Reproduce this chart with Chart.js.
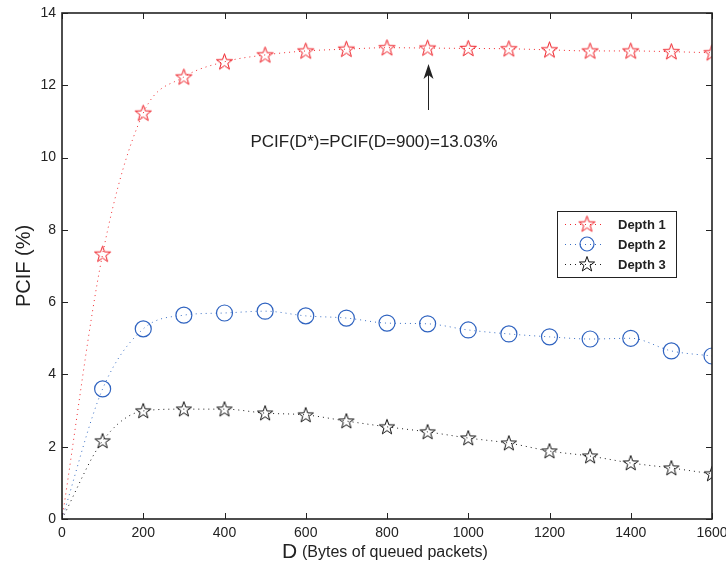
<!DOCTYPE html>
<html>
<head>
<meta charset="utf-8">
<script src="https://cdn.jsdelivr.net/npm/chart.js@4.4.1/dist/chart.umd.min.js"></script>
<style>
  html, body { margin: 0; padding: 0; background: #fff; }
  #wrap { width: 726px; height: 566px; }
</style>
</head>
<body>
<div id="wrap"><canvas id="c" width="726" height="566"></canvas></div>
<script>
// values
const dValues = [0, 100, 200, 300, 400, 500, 600, 700, 800, 900, 1000, 1100, 1200, 1300, 1400, 1500, 1600];
const depth1 = [0, 7.33, 11.23, 12.23, 12.65, 12.84, 12.95, 13.0, 13.04, 13.03, 13.02, 13.01, 12.98, 12.95, 12.95, 12.93, 12.9];
const depth2 = [0, 3.6, 5.26, 5.64, 5.7, 5.75, 5.62, 5.56, 5.42, 5.4, 5.23, 5.12, 5.04, 4.98, 5.0, 4.65, 4.51];
const depth3 = [0, 2.16, 2.99, 3.04, 3.04, 2.93, 2.88, 2.71, 2.55, 2.41, 2.24, 2.1, 1.88, 1.74, 1.55, 1.41, 1.25];
const seriesNames = ['Depth 1', 'Depth 2', 'Depth 3'];
const annotationText = 'PCIF(D*)=PCIF(D=900)=13.03%';
const annotationX = 900;

const FONT = "'Liberation Sans', Arial, sans-serif";

// pentagram marker, like MATLAB's 'p'
function starMarker(color, R) {
  const size = Math.ceil(R * 2 + 4);
  const cv = document.createElement('canvas');
  cv.width = size; cv.height = size;
  const g = cv.getContext('2d');
  const cx = size / 2, cy = size / 2 + 0.5, r = R * 0.40;
  g.beginPath();
  for (let i = 0; i < 10; i++) {
    const a = -Math.PI / 2 + i * Math.PI / 5;
    const rr = i % 2 === 0 ? R : r;
    const px = cx + rr * Math.cos(a), py = cy + rr * Math.sin(a);
    i === 0 ? g.moveTo(px, py) : g.lineTo(px, py);
  }
  g.closePath();
  g.strokeStyle = color;
  g.lineWidth = 1;
  g.stroke();
  return cv;
}

const redStar = starMarker('#ee1c24', 8.5);
const blackStar = starMarker('#111', 8);

const toXY = ys => dValues.map((x, i) => ({ x: x, y: ys[i] }));
// no marker on the origin point
const markerRadius = r => ctx => (ctx.dataIndex === 0 ? 0 : r);

const frameAndExtras = {
  id: 'frameAndExtras',
  afterDraw(chart) {
    const { ctx, chartArea: a, scales: { x, y } } = chart;
    ctx.save();
    // inward ticks on all four sides
    ctx.strokeStyle = '#222';
    ctx.lineWidth = 1;
    ctx.beginPath();
    x.ticks.forEach(t => {
      const px = Math.round(x.getPixelForValue(t.value)) + 0.5;
      ctx.moveTo(px, a.bottom); ctx.lineTo(px, a.bottom - 6);
      ctx.moveTo(px, a.top); ctx.lineTo(px, a.top + 6);
    });
    y.ticks.forEach(t => {
      const py = Math.round(y.getPixelForValue(t.value)) + 0.5;
      ctx.moveTo(a.left, py); ctx.lineTo(a.left + 6, py);
      ctx.moveTo(a.right, py); ctx.lineTo(a.right - 6, py);
    });
    ctx.stroke();
    // box
    ctx.lineWidth = 1.6;
    ctx.strokeStyle = '#222';
    ctx.strokeRect(a.left, a.top, a.right - a.left, a.bottom - a.top);

    // arrow + note
    const ax = Math.round(x.getPixelForValue(annotationX)) + 0.5;
    ctx.lineWidth = 1;
    ctx.beginPath();
    ctx.moveTo(ax, 110); ctx.lineTo(ax, 72);
    ctx.stroke();
    ctx.fillStyle = '#222';
    ctx.beginPath();
    ctx.moveTo(ax, 64); ctx.lineTo(ax - 5, 79); ctx.lineTo(ax, 75); ctx.lineTo(ax + 5, 79);
    ctx.closePath();
    ctx.fill();
    ctx.font = '17px ' + FONT;
    ctx.textAlign = 'center';
    ctx.textBaseline = 'middle';
    ctx.fillText(annotationText, 374, 142);

    // axis titles
    ctx.save();
    ctx.translate(24, 266);
    ctx.rotate(-Math.PI / 2);
    ctx.font = '20px ' + FONT;
    ctx.fillText('PCIF (%)', 0, 0);
    ctx.restore();
    ctx.textAlign = 'left';
    ctx.textBaseline = 'alphabetic';
    ctx.font = '21px ' + FONT;
    ctx.fillText('D', 282, 558);
    ctx.font = '16px ' + FONT;
    ctx.fillText('(Bytes of queued packets)', 302, 557);

    // legend
    const lx = 557, ly = 211, lw = 119, lh = 66;
    ctx.fillStyle = '#fff';
    ctx.fillRect(lx, ly, lw, lh);
    ctx.lineWidth = 1;
    ctx.strokeStyle = '#222';
    ctx.strokeRect(lx + 0.5, ly + 0.5, lw, lh);
    chart.data.datasets.forEach((ds, i) => {
      const cy = ly + 13 + i * 20;
      ctx.save();
      ctx.strokeStyle = ds.borderColor;
      ctx.setLineDash([1, 4]);
      ctx.beginPath();
      ctx.moveTo(lx + 8, cy + 0.5); ctx.lineTo(lx + 48, cy + 0.5);
      ctx.stroke();
      ctx.restore();
      if (ds.pointStyle === 'circle') {
        ctx.strokeStyle = ds.pointBorderColor;
        ctx.lineWidth = 1.2;
        ctx.beginPath();
        ctx.arc(lx + 30, cy, 7, 0, Math.PI * 2);
        ctx.stroke();
      } else {
        const img = ds.pointStyle;
        ctx.drawImage(img, lx + 30 - img.width / 2, cy - img.height / 2);
      }
      ctx.fillStyle = '#222';
      ctx.font = 'bold 13px ' + FONT;
      ctx.textBaseline = 'middle';
      ctx.fillText(ds.label, lx + 61, cy + 1);
    });
    ctx.restore();
  }
};

new Chart(document.getElementById('c'), {
  type: 'line',
  data: {
    datasets: [
      {
        label: seriesNames[0],
        data: toXY(depth1),
        borderColor: '#f0282d',
        borderWidth: 1,
        borderDash: [1, 4],
        pointStyle: redStar,
        pointRadius: markerRadius(8),
        pointBorderColor: '#f0282d',
        cubicInterpolationMode: 'monotone'
      },
      {
        label: seriesNames[1],
        data: toXY(depth2),
        borderColor: '#3a6fc4',
        borderWidth: 1,
        borderDash: [1, 4],
        pointStyle: 'circle',
        pointRadius: markerRadius(8),
        pointBorderWidth: 1.2,
        pointBorderColor: '#2f63c0',
        pointBackgroundColor: 'rgba(0,0,0,0)',
        cubicInterpolationMode: 'monotone'
      },
      {
        label: seriesNames[2],
        data: toXY(depth3),
        borderColor: '#1a1a1a',
        borderWidth: 1,
        borderDash: [1, 4],
        pointStyle: blackStar,
        pointRadius: markerRadius(8),
        pointBorderColor: '#1a1a1a',
        cubicInterpolationMode: 'monotone'
      }
    ]
  },
  options: {
    responsive: false,
    animation: false,
    layout: { padding: { top: 13, right: 14, left: 0, bottom: 0 } },
    plugins: { legend: { display: false }, tooltip: { enabled: false } },
    elements: { point: { hoverRadius: 8 } },
    scales: {
      x: {
        type: 'linear',
        min: 0, max: 1600,
        grid: { display: false, drawTicks: false },
        border: { display: false },
        ticks: {
          stepSize: 200, padding: 6, color: '#222', maxRotation: 0,
          font: { family: FONT, size: 14 },
          callback: v => String(v)
        },
        afterFit: s => { s.height = 47; s.paddingLeft = 0; s.paddingRight = 0; }
      },
      y: {
        min: 0, max: 14,
        grid: { display: false, drawTicks: false },
        border: { display: false },
        ticks: { stepSize: 2, padding: 6, color: '#222', font: { family: FONT, size: 14 } },
        afterFit: s => { s.width = 62; s.paddingTop = 0; s.paddingBottom = 0; }
      }
    }
  },
  plugins: [frameAndExtras]
});
</script>
</body>
</html>
